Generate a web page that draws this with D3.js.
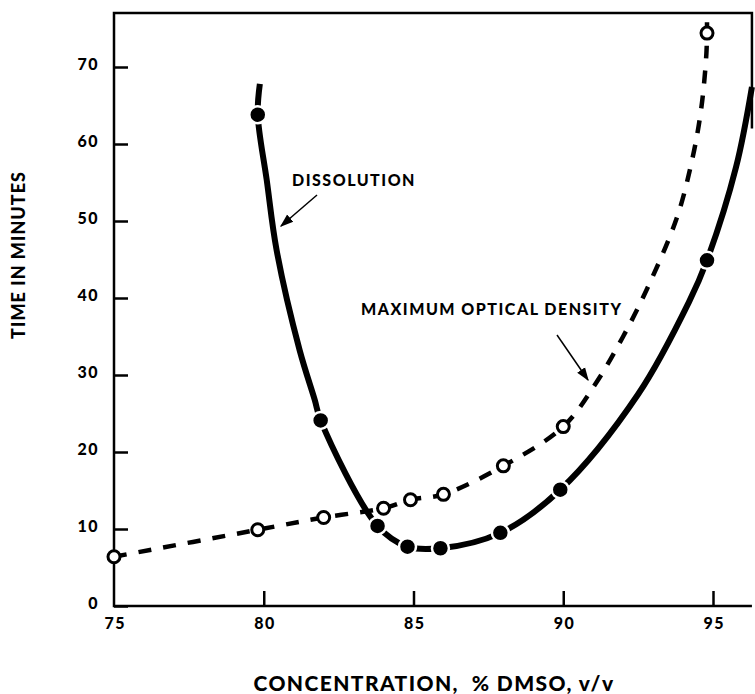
<!DOCTYPE html>
<html>
<head>
<meta charset="utf-8">
<title>DMSO dissolution</title>
<style>
  body { margin: 0; background: #fff; }
  svg text { font-family: Lato, "Open Sans", sans-serif; font-weight: 900; fill: #000; }
  .tick line { stroke: #000; stroke-width: 2.5px; }
  .tick text { font-size: 16px; letter-spacing: 1.5px; }
</style>
</head>
<body>
<svg id="chart" width="755" height="694"></svg>
<script src="https://cdn.jsdelivr.net/npm/d3@7"></script>
<script>
// ticks
var xTicks = [75, 80, 85, 90, 95];
var yTicks = [0, 10, 20, 30, 40, 50, 60, 70];

// dissolution (filled dots)
var dissConc = [79.8, 81.9, 83.8, 84.8, 85.9, 87.9, 89.9, 94.8];
var dissTime = [63.8, 24.1, 10.4, 7.7, 7.5, 9.5, 15.1, 44.9];
// drawn line (includes the dots)
var dissLineConc = [79.87, 79.8, 80.1, 80.43, 81.2, 81.7, 81.9, 83.8, 84.8, 85.9, 87.9, 89.9, 92.5, 94.2, 94.8, 95.77, 96.3];
var dissLineTime = [67.8, 63.8, 55.3, 46.2, 33.2, 26.8, 24.1, 10.4, 7.7, 7.5, 9.5, 15.1, 27.5, 39.5, 44.9, 57, 67.4];

// maximum optical density (open circles)
var odConc = [75, 79.8, 82, 84, 84.9, 86, 88, 90, 94.8];
var odTime = [6.4, 9.9, 11.5, 12.7, 13.8, 14.5, 18.2, 23.3, 74.4];
var odLineConc = [75, 79.8, 82, 84, 84.9, 86, 88, 90, 91.1, 92, 92.8, 93.8, 94.3, 94.6, 94.78, 94.8];
var odLineTime = [6.4, 9.9, 11.5, 12.7, 13.8, 14.5, 18.2, 23.3, 29, 35, 41.2, 50.5, 57.9, 64.4, 71.8, 75.8];

var svg = d3.select('#chart');
var x = d3.scaleLinear().domain([75, 95]).range([114, 713]);
var y = d3.scaleLinear().domain([0, 70]).range([606, 67]);
var xMax = 96.3, yMax = 77;

svg.append('defs').append('marker')
    .attr('id', 'arrow')
    .attr('viewBox', '0 0 10 10')
    .attr('refX', 9).attr('refY', 5)
    .attr('markerWidth', 9).attr('markerHeight', 9)
    .attr('orient', 'auto')
    .append('path').attr('d', 'M0,1.5 L10,5 L0,8.5 Z').attr('fill', '#000');

// frame
svg.append('path')
    .attr('d', 'M' + x(xMax) + ',' + y(62) + ' L' + x(xMax) + ',' + y(yMax) + ' L' + x(75) + ',' + y(yMax) +
        ' L' + x(75) + ',' + y(0) + ' L' + x(xMax) + ',' + y(0))
    .attr('fill', 'none').attr('stroke', '#000').attr('stroke-width', 2.5);

// axes
var yAxis = svg.append('g')
    .attr('transform', 'translate(' + x(75) + ',0)')
    .call(d3.axisLeft(y).tickValues(yTicks).tickSizeInner(-14).tickSizeOuter(0).tickPadding(15));
yAxis.select('.domain').remove();
yAxis.selectAll('.tick text').attr('dy', '0.15em');

var xAxis = svg.append('g')
    .attr('transform', 'translate(0,' + y(0) + ')')
    .call(d3.axisBottom(x).tickValues(xTicks).tickSizeInner(-15).tickSizeOuter(0));
xAxis.select('.domain').remove();
xAxis.selectAll('.tick text').attr('y', 23).attr('dy', 0).attr('dx', '0.05em');
xAxis.select('.tick line').remove();

// curves
var line = d3.line()
    .x(function(d) { return x(d[0]); })
    .y(function(d) { return y(d[1]); })
    .curve(d3.curveCatmullRom.alpha(0.5));

svg.append('path')
    .datum(d3.zip(odLineConc, odLineTime))
    .attr('d', line)
    .attr('fill', 'none').attr('stroke', '#000')
    .attr('stroke-width', 4.5).attr('stroke-dasharray', '13,12');

svg.append('path')
    .datum(d3.zip(dissLineConc, dissLineTime))
    .attr('d', line)
    .attr('fill', 'none').attr('stroke', '#000')
    .attr('stroke-width', 6);

// points
svg.append('g').selectAll('circle')
    .data(d3.zip(odConc, odTime))
    .enter().append('circle')
    .attr('cx', function(d) { return x(d[0]); })
    .attr('cy', function(d) { return y(d[1]); })
    .attr('r', 6)
    .attr('fill', '#fff').attr('stroke', '#000').attr('stroke-width', 3);

svg.append('g').selectAll('circle')
    .data(d3.zip(dissConc, dissTime))
    .enter().append('circle')
    .attr('cx', function(d) { return x(d[0]); })
    .attr('cy', function(d) { return y(d[1]); })
    .attr('r', 8.5)
    .attr('fill', '#000').attr('stroke', '#fff').attr('stroke-width', 2.5);

// annotations
svg.append('text').attr('x', 292).attr('y', 186)
    .style('font-size', '16px').style('letter-spacing', '1.5px')
    .text('DISSOLUTION');
svg.append('line').attr('x1', 317).attr('y1', 195).attr('x2', 281).attr('y2', 226)
    .attr('stroke', '#000').attr('stroke-width', 1.5).attr('marker-end', 'url(#arrow)');

svg.append('text').attr('x', 361).attr('y', 315)
    .style('font-size', '16px').style('letter-spacing', '1.5px')
    .text('MAXIMUM OPTICAL DENSITY');
svg.append('line').attr('x1', 557).attr('y1', 335).attr('x2', 588).attr('y2', 380)
    .attr('stroke', '#000').attr('stroke-width', 1.5).attr('marker-end', 'url(#arrow)');

// axis titles
svg.append('text')
    .attr('x', 434).attr('y', 691)
    .attr('text-anchor', 'middle')
    .style('font-size', '21px').style('letter-spacing', '1.4px').style('white-space', 'pre')
    .text('CONCENTRATION,  % DMSO, v/v');

svg.append('text')
    .attr('transform', 'translate(25,255) rotate(-90)')
    .attr('text-anchor', 'middle')
    .style('font-size', '18px').style('letter-spacing', '1px')
    .text('TIME IN MINUTES');
</script>
</body>
</html>
